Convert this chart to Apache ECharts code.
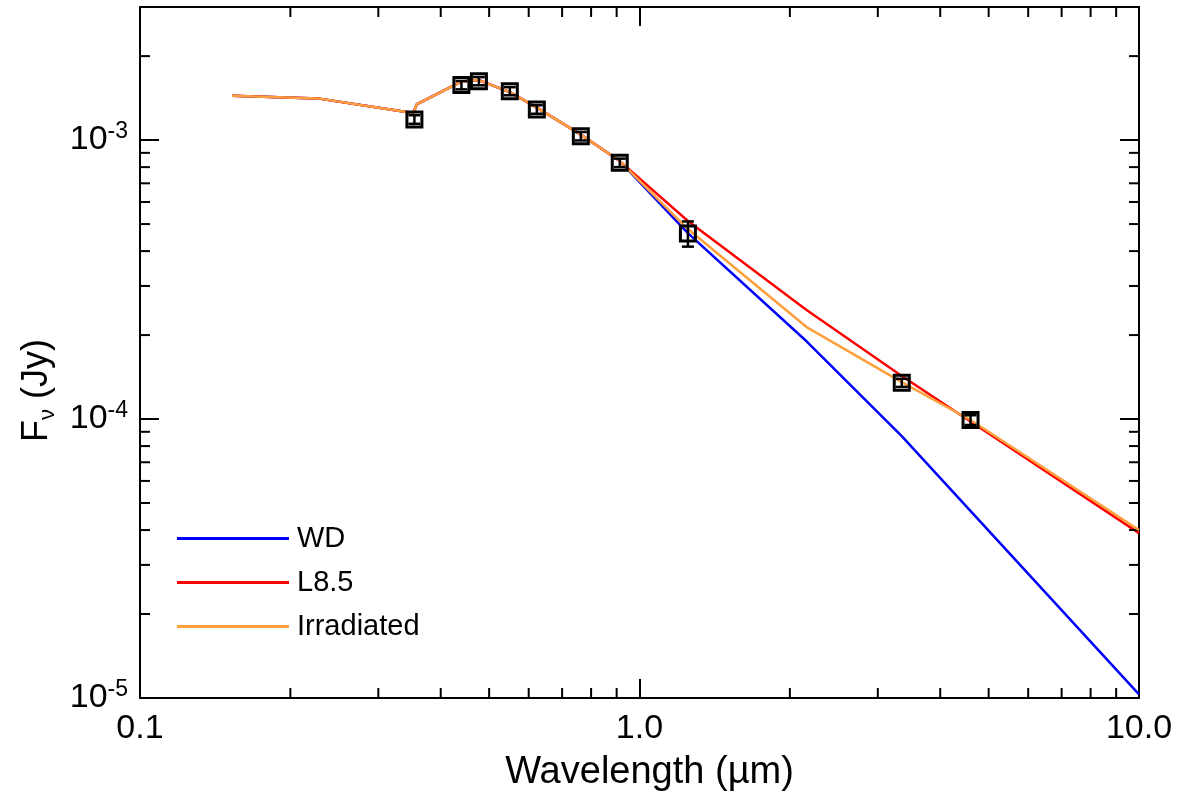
<!DOCTYPE html>
<html>
<head>
<meta charset="utf-8">
<title>SED</title>
<script src="https://cdn.jsdelivr.net/npm/echarts@6/dist/echarts.min.js"></script>
<style>
  html, body { margin: 0; padding: 0; background: #fff; }
  #chart { width: 1185px; height: 797px; }
</style>
</head>
<body>
<div id="chart"></div>
<script>
// Model spectra: wavelength grid (micron) and flux density (Jy)
const wlModel = [0.1528, 0.2267, 0.352, 0.3585, 0.44, 0.477, 0.55, 0.623, 0.763, 0.913, 1.25, 2.16, 3.35, 4.6, 10.0];
const fluxWD  = [1.441e-3, 1.411e-3, 1.250e-3, 1.346e-3, 1.621e-3, 1.641e-3, 1.486e-3, 1.307e-3, 1.046e-3, 8.41e-4, 4.64e-4, 1.90e-4, 8.69e-5, null, 1.03e-5];
const fluxL85 = [1.441e-3, 1.411e-3, 1.250e-3, 1.346e-3, 1.621e-3, 1.641e-3, 1.486e-3, 1.307e-3, 1.046e-3, 8.41e-4, 5.13e-4, 2.46e-4, 1.426e-4, 9.80e-5, 3.90e-5];
const fluxIrr = [1.441e-3, 1.411e-3, 1.250e-3, 1.346e-3, 1.621e-3, 1.641e-3, 1.486e-3, 1.307e-3, 1.046e-3, 8.41e-4, 4.80e-4, 2.137e-4, 1.357e-4, 9.92e-5, 4.00e-5];

// Photometry
const obsWl   = [0.3543, 0.44, 0.477, 0.55, 0.623, 0.763, 0.913, 1.25, 3.35, 4.6];
const obsFlux = [1.186e-3, 1.575e-3, 1.627e-3, 1.498e-3, 1.288e-3, 1.033e-3, 8.29e-4, 4.63e-4, 1.349e-4, 9.92e-5];
const obsErr  = [4.2e-5, 5.5e-5, 5.5e-5, 5.0e-5, 4.5e-5, 3.6e-5, 2.9e-5, 4.8e-5, 4.5e-6, 4.0e-6];

// Axis ranges and minor tick positions
const xRange = [0.1, 10];
const yRange = [1e-5, 3e-3];
const xMinorTicks = [0.2, 0.3, 0.4, 0.5, 0.6, 0.7, 0.8, 0.9, 2, 3, 4, 5, 6, 7, 8, 9];
const yMinorTicks = [2e-5, 3e-5, 4e-5, 5e-5, 6e-5, 7e-5, 8e-5, 9e-5,
                     2e-4, 3e-4, 4e-4, 5e-4, 6e-4, 7e-4, 8e-4, 9e-4, 2e-3];

const FONT = 'Liberation Sans, Arial, Helvetica, sans-serif';
const BLACK = '#000';

function pairs(xs, ys) {
  return xs.map((x, i) => [x, ys[i]]);
}

function yTickLabel(v) {
  const e = Math.round(Math.log10(v));
  if (Math.abs(v / Math.pow(10, e) - 1) > 1e-6) return '';
  return '{b|10}{s|' + e + '}';
}

const commonLine = { show: true, onZero: false, lineStyle: { color: BLACK, width: 2 } };
const commonTick = { show: true, inside: true, length: 19, lineStyle: { color: BLACK, width: 2 } };

function minorTicks(values, dir) {
  return {
    type: 'custom',
    silent: true,
    clip: false,
    z: 4,
    data: values.map(v => dir === 'x' ? [v, yRange[0]] : [xRange[0], v]),
    renderItem: function (params, api) {
      const cs = params.coordSys;
      const p = api.coord([api.value(0), api.value(1)]);
      const L = 10;
      const st = { stroke: BLACK, lineWidth: 2 };
      let segs;
      if (dir === 'x') {
        const b = cs.y + cs.height, t = cs.y;
        segs = [[p[0], b, p[0], b - L], [p[0], t, p[0], t + L]];
      } else {
        const l = cs.x, r = cs.x + cs.width;
        segs = [[l, p[1], l + L, p[1]], [r, p[1], r - L, p[1]]];
      }
      return {
        type: 'group',
        children: segs.map(s => ({
          type: 'line',
          shape: { x1: s[0], y1: s[1], x2: s[2], y2: s[3] },
          style: st
        }))
      };
    }
  };
}

const chart = echarts.init(document.getElementById('chart'), null, { renderer: 'canvas' });

chart.setOption({
  animation: false,
  backgroundColor: '#fff',
  textStyle: { fontFamily: FONT, color: BLACK },
  grid: { left: 140, right: 46, top: 7, bottom: 99, containLabel: false },
  legend: {
    data: ['WD', 'L8.5', 'Irradiated'],
    orient: 'vertical',
    left: 172,
    top: 519,
    icon: 'rect',
    itemWidth: 112,
    itemHeight: 3,
    itemGap: 15,
    selectedMode: false,
    textStyle: { fontSize: 29, color: BLACK, fontFamily: FONT, padding: [0, 0, 0, 3] }
  },
  xAxis: [
    {
      type: 'log', logBase: 10, min: xRange[0], max: xRange[1], position: 'bottom',
      axisLine: commonLine, axisTick: commonTick, splitLine: { show: false },
      axisLabel: {
        fontSize: 34, color: BLACK, margin: 14, fontFamily: FONT,
        formatter: v => Number(v).toFixed(1)
      },
      name: 'Wavelength (µm)', nameLocation: 'middle', nameGap: 56,
      nameTextStyle: { fontSize: 38, color: BLACK, fontFamily: FONT, padding: [0, 0, 0, 20] }
    },
    {
      type: 'log', logBase: 10, min: xRange[0], max: xRange[1], position: 'top',
      axisLine: commonLine, axisTick: commonTick, splitLine: { show: false },
      axisLabel: { show: false }
    }
  ],
  yAxis: [
    {
      type: 'log', logBase: 10, min: yRange[0], max: yRange[1], position: 'left',
      axisLine: commonLine, axisTick: commonTick, splitLine: { show: false },
      axisLabel: {
        margin: 12, color: BLACK, fontFamily: FONT,
        formatter: yTickLabel,
        rich: {
          b: { fontSize: 34, lineHeight: 40, fontFamily: FONT, color: BLACK },
          s: { fontSize: 23, lineHeight: 22, verticalAlign: 'top', fontFamily: FONT, color: BLACK }
        }
      },
      name: '{a|F}{sub|ν}{a| (Jy)}', nameLocation: 'middle', nameGap: 76,
      nameTextStyle: {
        color: BLACK, fontFamily: FONT, padding: [0, 76, 0, 0],
        rich: {
          a: { fontSize: 36, lineHeight: 44, fontFamily: FONT, color: BLACK },
          sub: { fontSize: 22, lineHeight: 44, verticalAlign: 'bottom', padding: [12, 0, 0, 0], fontFamily: FONT, color: BLACK }
        }
      }
    },
    {
      type: 'log', logBase: 10, min: yRange[0], max: yRange[1], position: 'right',
      axisLine: commonLine, axisTick: commonTick, splitLine: { show: false },
      axisLabel: { show: false }
    }
  ],
  series: [
    {
      name: 'WD', type: 'line', data: pairs(wlModel, fluxWD), connectNulls: true,
      symbol: 'none', color: '#0000ff', lineStyle: { color: '#0000ff', width: 2.5 }, z: 2
    },
    {
      name: 'L8.5', type: 'line', data: pairs(wlModel, fluxL85),
      symbol: 'none', color: '#ff0000', lineStyle: { color: '#ff0000', width: 2.5 }, z: 3
    },
    {
      name: 'Irradiated', type: 'line', data: pairs(wlModel, fluxIrr),
      symbol: 'none', color: '#ffa03c', lineStyle: { color: '#ffa03c', width: 2.5 }, z: 4
    },
    {
      type: 'custom', silent: true, z: 9,
      data: obsWl.map((w, i) => [w, obsFlux[i] - obsErr[i], obsFlux[i] + obsErr[i]]),
      encode: { x: 0, y: [1, 2] },
      renderItem: function (params, api) {
        const lo = api.coord([api.value(0), api.value(1)]);
        const hi = api.coord([api.value(0), api.value(2)]);
        const hw = 6;
        const st = { stroke: BLACK, lineWidth: 2.5 };
        return {
          type: 'group',
          children: [
            { type: 'line', shape: { x1: lo[0], y1: lo[1], x2: hi[0], y2: hi[1] }, style: st },
            { type: 'line', shape: { x1: lo[0] - hw, y1: lo[1], x2: lo[0] + hw, y2: lo[1] }, style: st },
            { type: 'line', shape: { x1: hi[0] - hw, y1: hi[1], x2: hi[0] + hw, y2: hi[1] }, style: st }
          ]
        };
      }
    },
    {
      type: 'scatter', data: pairs(obsWl, obsFlux), symbol: 'rect', symbolSize: 15, z: 10,
      itemStyle: { color: 'rgba(0,0,0,0)', borderColor: BLACK, borderWidth: 3, opacity: 1 }
    },
    minorTicks(xMinorTicks, 'x'),
    minorTicks(yMinorTicks, 'y')
  ]
});
</script>
</body>
</html>
